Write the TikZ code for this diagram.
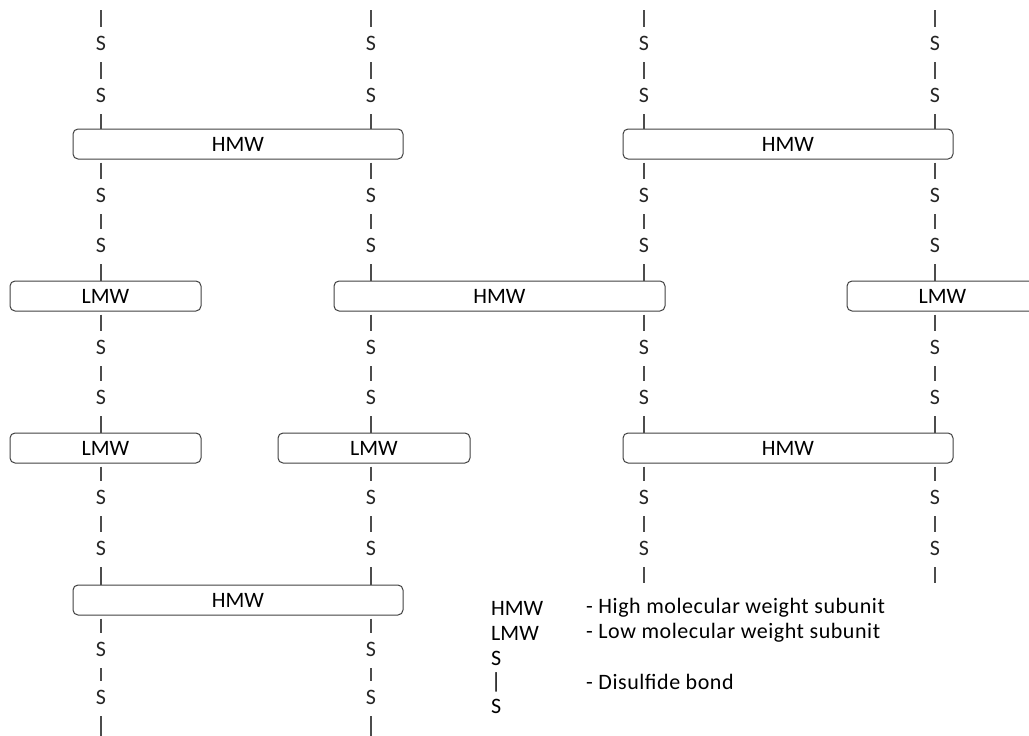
\documentclass[tikz,border=0pt]{standalone}
\usepackage{fontspec}
\setmainfont{Carlito}
\newfontfamily\legendfont[LetterSpace=2.5]{Carlito}
\begin{document}
\begin{tikzpicture}[x=1pt,y=-1pt,
  every node/.style={font=\fontsize{22}{26}\selectfont},
  subunit/.style={draw=black!75, line width=1pt, rounded corners=5pt, minimum height=30pt, inner sep=0pt},
  sulfur/.style={inner sep=0pt, text=black!85},
  bond/.style={draw=black!70, line width=1.1pt},
  fromS/.style={shorten <=12pt},
  toS/.style={shorten >=8.5pt},
  fromB/.style={shorten <=3pt},
  legend/.style={anchor=west, inner sep=0pt},
  legenddesc/.style={anchor=west, inner sep=0pt, font=\legendfont\fontsize{22}{26}\selectfont}]
\useasboundingbox (0,0) rectangle (1029,736);
% subunit boxes
\node[subunit, minimum width=330pt] (r1a) at (238,144) {HMW};
\node[subunit, minimum width=330pt] (r1b) at (788,144) {HMW};
\node[subunit, minimum width=191pt] (r2a) at (105.5,296) {LMW};
\node[subunit, minimum width=331pt] (r2b) at (499.5,296) {HMW};
\node[subunit, minimum width=191pt] (r2c) at (942.5,296) {LMW};
\node[subunit, minimum width=191pt] (r3a) at (105.5,448) {LMW};
\node[subunit, minimum width=192pt] (r3b) at (374,448) {LMW};
\node[subunit, minimum width=330pt] (r3c) at (788,448) {HMW};
\node[subunit, minimum width=330pt] (r4a) at (238,600) {HMW};
% columns with four subunits
\foreach \c/\x/\ba/\bb/\bc/\bd in {1/101/r1a/r2a/r3a/r4a, 2/371/r1a/r2b/r3b/r4a}{
  \coordinate (top\c) at (\x,10);
  \coordinate (end\c) at (\x,740);
  \node[sulfur] (sa\c) at (\x,43) {S};
  \node[sulfur] (sb\c) at (\x,95) {S};
  \node[sulfur] (sc\c) at (\x,195) {S};
  \node[sulfur] (sd\c) at (\x,245) {S};
  \node[sulfur] (se\c) at (\x,347) {S};
  \node[sulfur] (sf\c) at (\x,397) {S};
  \node[sulfur] (sg\c) at (\x,497) {S};
  \node[sulfur] (sh\c) at (\x,548) {S};
  \node[sulfur] (si\c) at (\x,649) {S};
  \node[sulfur] (sj\c) at (\x,697) {S};
  \draw[bond,toS] (top\c) -- (sa\c);
  \draw[bond,fromS,toS] (sa\c) -- (sb\c);
  \draw[bond,fromS] (sb\c) -- (sb\c |- \ba.north);
  \draw[bond,fromB,toS] (sc\c |- \ba.south) -- (sc\c);
  \draw[bond,fromS,toS] (sc\c) -- (sd\c);
  \draw[bond,fromS] (sd\c) -- (sd\c |- \bb.north);
  \draw[bond,fromB,toS] (se\c |- \bb.south) -- (se\c);
  \draw[bond,fromS,toS] (se\c) -- (sf\c);
  \draw[bond,fromS] (sf\c) -- (sf\c |- \bc.north);
  \draw[bond,fromB,toS] (sg\c |- \bc.south) -- (sg\c);
  \draw[bond,fromS,toS] (sg\c) -- (sh\c);
  \draw[bond,fromS] (sh\c) -- (sh\c |- \bd.north);
  \draw[bond,fromB,toS] (si\c |- \bd.south) -- (si\c);
  \draw[bond,fromS,toS] (si\c) -- (sj\c);
  \draw[bond,fromS] (sj\c) -- (end\c);
}
% columns with three subunits
\foreach \c/\x/\ba/\bb/\bc in {3/644/r1b/r2b/r3c, 4/935/r1b/r2c/r3c}{
  \coordinate (top\c) at (\x,10);
  \coordinate (end\c) at (\x,583);
  \node[sulfur] (sa\c) at (\x,43) {S};
  \node[sulfur] (sb\c) at (\x,95) {S};
  \node[sulfur] (sc\c) at (\x,195) {S};
  \node[sulfur] (sd\c) at (\x,245) {S};
  \node[sulfur] (se\c) at (\x,347) {S};
  \node[sulfur] (sf\c) at (\x,397) {S};
  \node[sulfur] (sg\c) at (\x,497) {S};
  \node[sulfur] (sh\c) at (\x,548) {S};
  \draw[bond,toS] (top\c) -- (sa\c);
  \draw[bond,fromS,toS] (sa\c) -- (sb\c);
  \draw[bond,fromS] (sb\c) -- (sb\c |- \ba.north);
  \draw[bond,fromB,toS] (sc\c |- \ba.south) -- (sc\c);
  \draw[bond,fromS,toS] (sc\c) -- (sd\c);
  \draw[bond,fromS] (sd\c) -- (sd\c |- \bb.north);
  \draw[bond,fromB,toS] (se\c |- \bb.south) -- (se\c);
  \draw[bond,fromS,toS] (se\c) -- (sf\c);
  \draw[bond,fromS] (sf\c) -- (sf\c |- \bc.north);
  \draw[bond,fromB,toS] (sg\c |- \bc.south) -- (sg\c);
  \draw[bond,fromS,toS] (sg\c) -- (sh\c);
  \draw[bond,fromS] (sh\c) -- (end\c);
}
% legend
\node[legend] (lk1) at (491,608) {HMW};
\node[legend] (lk2) at (491,633) {LMW};
\node[legend] (lk3) at (491,658) {S};
\node[legend] (lk4) at (491,682) {|};
\node[legend] (lk5) at (491,706) {S};
\node[legenddesc] (ld1) at (586,608) {- High molecular weight subunit};
\node[legenddesc] (ld2) at (586,633) {- Low molecular weight subunit};
\node[legenddesc] (ld4) at (586,682) {- Disulfide bond};
\end{tikzpicture}
\end{document}
